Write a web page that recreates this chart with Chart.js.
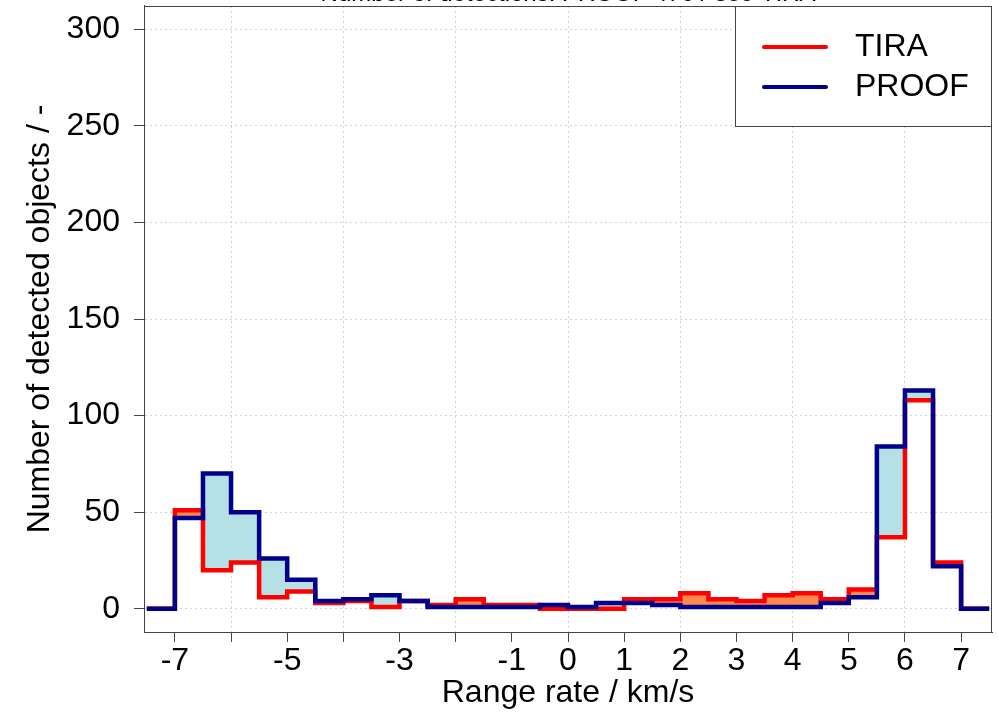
<!DOCTYPE html>
<html>
<head>
<meta charset="utf-8">
<script src="https://cdn.jsdelivr.net/npm/chart.js@4/dist/chart.umd.min.js"></script>
<style>
  html, body { margin: 0; padding: 0; background: #fff; }
  #wrap { width: 998px; height: 716px; position: relative; }
</style>
</head>
<body>
<div id="wrap"><canvas id="chart" width="998" height="716"></canvas></div>
<script>
// Histogram of range rate, 0.5 km/s bins (left edges)
var binEdges = [-7.5, -7, -6.5, -6, -5.5, -5, -4.5, -4, -3.5, -3, -2.5, -2, -1.5, -1, -0.5,
                0, 0.5, 1, 1.5, 2, 2.5, 3, 3.5, 4, 4.5, 5, 5.5, 6, 6.5, 7];
var lastEdge = 7.5;
var tiraCounts  = [0, 51, 20, 24, 6, 9, 3, 4, 1, 4, 2, 5, 2, 2, 0,
                   0, 0, 5, 5, 8, 5, 4, 7, 8, 5, 10, 37, 108, 24, 0];
var proofCounts = [0, 47, 70, 50, 26, 15, 4, 5, 7, 4, 1, 1, 1, 1, 2,
                   1, 3, 3, 2, 1, 1, 1, 1, 1, 3, 6, 84, 113, 22, 0];
var xTicks = [-7, -6, -5, -4, -3, -2, -1, 0, 1, 2, 3, 4, 5, 6, 7];
var xHiddenLabels = [-6, -4, -2];
var xGridAt = [-6, -4, -2, 0, 2, 4, 6];
var yTicks = [0, 50, 100, 150, 200, 250, 300];

var FONT = "'Liberation Sans', Arial, Helvetica, sans-serif";
var AXIS = "#444";
var GRID = "#d4d4d4";

function stepPoints(counts) {
  var pts = binEdges.map(function (x, i) { return { x: x, y: counts[i] }; });
  pts.push({ x: lastEdge, y: counts[counts.length - 1] });
  return pts;
}

function sum(a) { return a.reduce(function (s, v) { return s + v; }, 0); }

// plot frame + boxed legend in the top-right corner
var frameAndLegend = {
  id: "frameAndLegend",
  afterDraw: function (chart) {
    var ctx = chart.ctx, a = chart.chartArea;
    ctx.save();
    ctx.strokeStyle = AXIS;
    ctx.lineWidth = 1;
    ctx.strokeRect(a.left + 0.5, a.top + 0.5, a.right - a.left - 1, a.bottom - a.top);

    var bx = 735, by = a.top, bw = a.right - bx, bh = 121;
    ctx.fillStyle = "#fff";
    ctx.fillRect(bx, by, bw, bh);
    ctx.strokeRect(bx + 0.5, by + 0.5, bw - 1, bh - 1);

    ctx.font = "32px " + FONT;
    ctx.textBaseline = "middle";
    ctx.textAlign = "left";
    chart.data.datasets.forEach(function (ds, i) {
      var y = by + 41 + i * 40;
      ctx.strokeStyle = ds.borderColor;
      ctx.lineWidth = 4;
      ctx.lineCap = "round";
      ctx.beginPath();
      ctx.moveTo(764, y);
      ctx.lineTo(826, y);
      ctx.stroke();
      ctx.fillStyle = "#000";
      ctx.fillText(ds.label, 855, y);
    });
    ctx.restore();
  }
};

new Chart(document.getElementById("chart"), {
  type: "line",
  data: {
    datasets: [
      {
        label: "TIRA",
        data: stepPoints(tiraCounts),
        borderColor: "#ff0000",
        borderWidth: 4.5,
        stepped: "before",
        pointRadius: 0,
        borderJoinStyle: "miter",
        borderCapStyle: "butt",
        fill: { target: 1, above: "#ff8a4c", below: "#b4e0e6" },
        order: 1
      },
      {
        label: "PROOF",
        data: stepPoints(proofCounts),
        borderColor: "#00008b",
        borderWidth: 4.5,
        stepped: "before",
        pointRadius: 0,
        borderJoinStyle: "miter",
        borderCapStyle: "butt",
        fill: false,
        order: 0
      }
    ]
  },
  options: {
    responsive: false,
    animation: false,
    events: [],
    layout: { padding: { top: 0, right: 6, bottom: 0, left: 0 } },
    plugins: {
      legend: { display: false },
      tooltip: { enabled: false },
      title: {
        display: true,
        fullSize: false,
        text: "Number of detections: PROOF " + sum(proofCounts) + " / " + sum(tiraCounts) + " TIRA",
        color: "#000",
        font: { family: FONT, size: 24, weight: "normal", lineHeight: 1.2 },
        padding: { top: -20, bottom: -2.8 }
      }
    },
    scales: {
      x: {
        type: "linear",
        min: -7.55,
        max: 7.55,
        afterBuildTicks: function (s) { s.ticks = xTicks.map(function (v) { return { value: v }; }); },
        afterFit: function (s) { s.height = 84; s.paddingLeft = 0; s.paddingRight = 0; },
        ticks: {
          autoSkip: false,
          maxRotation: 0,
          padding: 3,
          color: "#000",
          font: { family: FONT, size: 32, lineHeight: 1 },
          callback: function (v) { return xHiddenLabels.indexOf(v) >= 0 ? "" : String(v); }
        },
        grid: {
          color: function (c) { return c.tick && xGridAt.indexOf(c.tick.value) >= 0 ? GRID : "rgba(0,0,0,0)"; },
          tickColor: AXIS,
          tickLength: 10,
          tickBorderDash: [],
          lineWidth: 1
        },
        border: { display: true, color: AXIS, dash: [2, 3] },
        title: {
          display: true,
          text: "Range rate / km/s",
          color: "#000",
          font: { family: FONT, size: 32, lineHeight: 1 },
          padding: { top: 0, bottom: 7 }
        }
      },
      y: {
        type: "linear",
        min: -12,
        max: 312,
        afterBuildTicks: function (s) { s.ticks = yTicks.map(function (v) { return { value: v }; }); },
        afterFit: function (s) { s.width = 144; s.paddingTop = 0; s.paddingBottom = 0; },
        ticks: {
          padding: 14,
          color: "#000",
          font: { family: FONT, size: 32, lineHeight: 1 }
        },
        grid: {
          color: GRID,
          tickColor: AXIS,
          tickLength: 10,
          tickBorderDash: [],
          lineWidth: 1
        },
        border: { display: true, color: AXIS, dash: [2, 3] },
        title: {
          display: true,
          text: "Number of detected objects / -",
          color: "#000",
          font: { family: FONT, size: 32, lineHeight: 1 },
          padding: { top: 24, bottom: 0 }
        }
      }
    }
  },
  plugins: [frameAndLegend]
});
</script>
</body>
</html>
